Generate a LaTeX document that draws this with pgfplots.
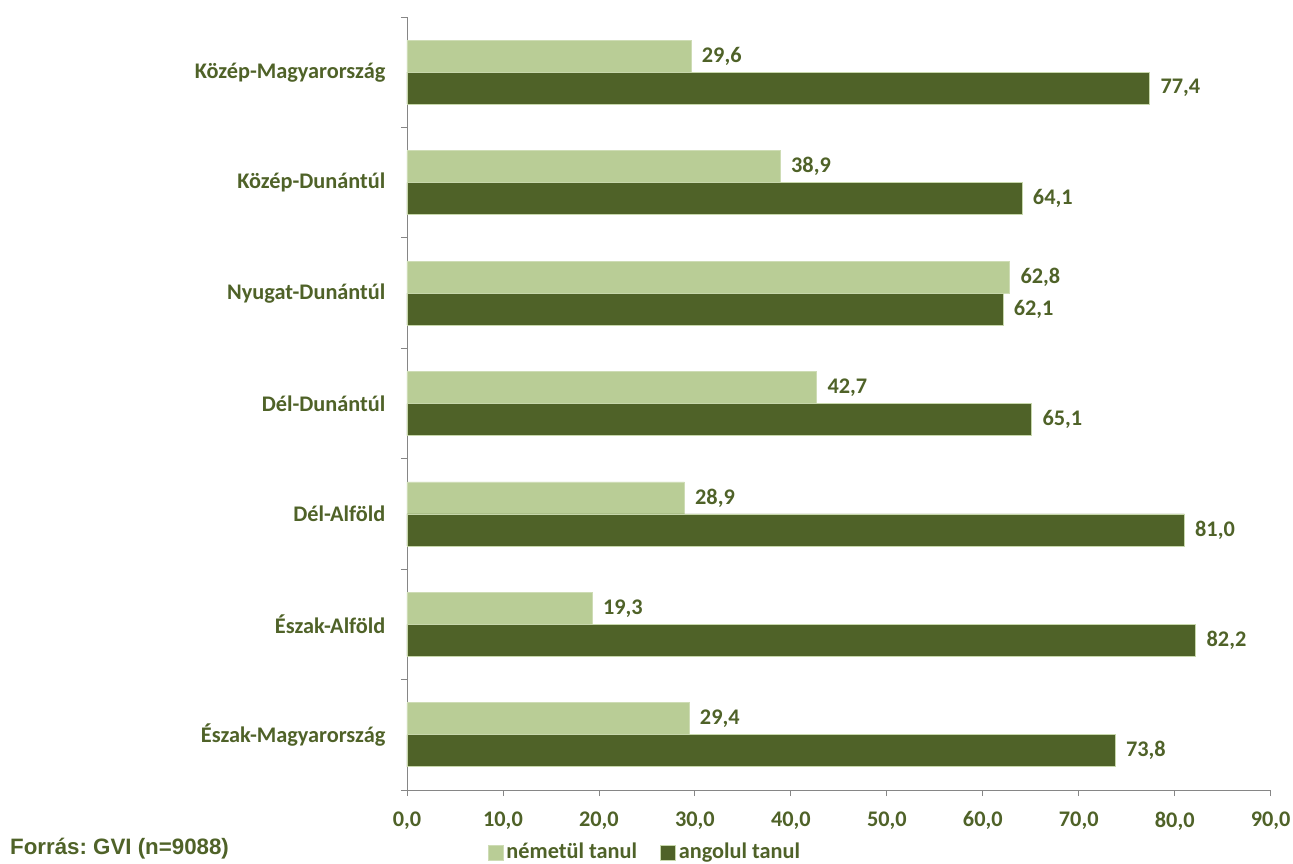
\documentclass[border=0pt]{standalone}
\usepackage{fontspec}
\setmainfont{Carlito}
\newfontfamily\arialfont{Liberation Sans}
\usepackage{pgfplots}
\pgfplotsset{compat=1.18}
\definecolor{lightg}{HTML}{B9CD96}
\definecolor{darkg}{HTML}{4F6228}
\definecolor{axgray}{HTML}{868686}
\begin{document}
\frenchspacing
\fontsize{22.3bp}{26bp}\selectfont\bfseries
\begin{tikzpicture}
\path[use as bounding box] (-407bp,-74bp) rectangle (886bp,790bp);
\begin{axis}[name=ax, at={(0,0)}, anchor=south west,
  scale only axis, width=863.7bp, height=773bp,
  xmin=0, xmax=90, ymin=-0.5, ymax=6.5,
  xbar, bar width=0.29,
  axis lines*=left,
  axis line style={axgray, line width=0.8bp},
  every tick/.style={axgray, line width=0.8bp},
  tick align=outside,
  xtick={0,10,...,90},
  minor xtick={0,10,...,90},
  major tick length=0bp,
  ytick={0,...,6},
  yticklabels={Észak-Magyarország,Észak-Alföld,Dél-Alföld,Dél-Dunántúl,Nyugat-Dunántúl,Közép-Dunántúl,Közép-Magyarország},
  minor ytick={-0.5,0.5,...,6.5},
  minor tick length=6bp,
  yticklabel style={xshift=-14bp, text=darkg},
  xticklabel style={yshift=-14bp, text=darkg},
  /pgf/number format/.cd, fixed, fixed zerofill, precision=1, use comma, assume math mode=true,
  /pgfplots/.cd,
  point meta=x,
  nodes near coords,
  every node near coord/.append style={text=darkg, xshift=3bp},
  legend columns=2,
  legend style={draw=none, fill=none, at={(0.276,-0.081)}, anchor=center,
    text=darkg, inner sep=0pt, nodes={inner xsep=3bp},
    /tikz/every even column/.append style={column sep=20bp}},
  legend image code/.code={\draw[#1] (0bp,-7.5bp) rectangle (15bp,7.5bp);},
]
\addplot[fill=lightg, draw=lightg!70!white, line width=0.8bp, bar shift=0.145]
  coordinates {(29.4,0) (19.3,1) (28.9,2) (42.7,3) (62.8,4) (38.9,5) (29.6,6)};
\addplot[fill=darkg, draw=lightg!80!white, line width=0.8bp, bar shift=-0.145]
  coordinates {(73.8,0) (82.2,1) (81.0,2) (65.1,3) (62.1,4) (64.1,5) (77.4,6)};
\legend{németül tanul, angolul tanul}
\end{axis}
\node[anchor=base west, text=darkg, inner sep=0pt, font=\arialfont\bfseries\fontsize{22.3bp}{26bp}\selectfont] at (-397bp,-64bp) {Forrás: GVI (n=9088)};
\end{tikzpicture}
\end{document}
